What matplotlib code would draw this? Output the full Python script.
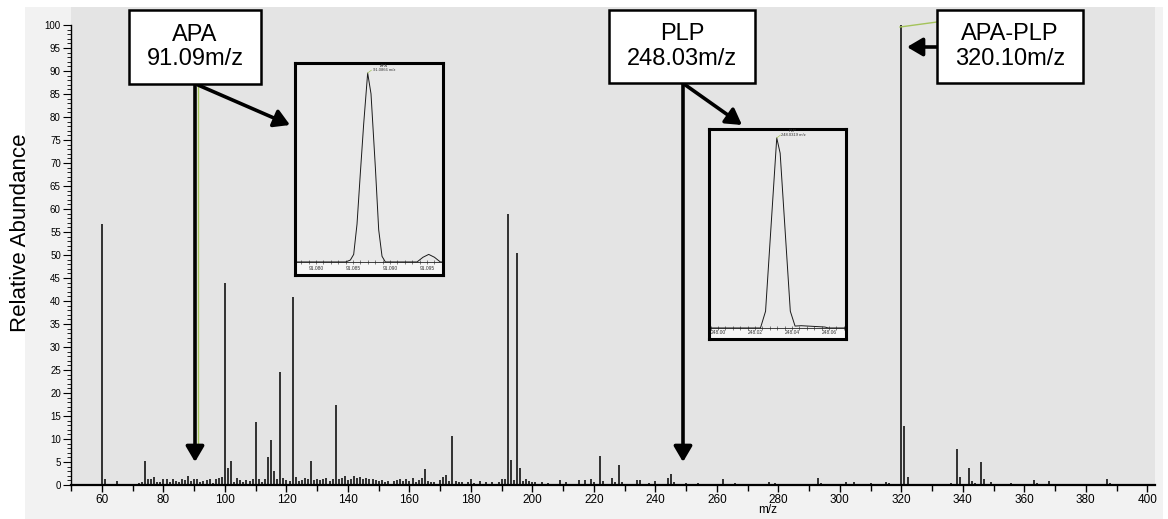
import matplotlib.pyplot as plt
from matplotlib.patches import Rectangle
import numpy as np

plt.rcParams['font.family'] = ['Liberation Sans', 'DejaVu Sans']

# centroid spectrum: m/z and relative abundance (%)
mz = [60.0, 61.0, 65.0, 72.0, 73.0, 74.0, 75.0, 76.0, 77.0, 78.0, 79.0, 80.0,
      81.0, 82.0, 83.0, 84.0, 85.0, 86.0, 87.0, 88.0, 89.0, 90.0, 91.0, 92.0,
      93.0, 94.0, 95.0, 96.0, 97.0, 98.0, 99.0, 100.0, 101.0, 102.0, 103.0,
      104.0, 105.0, 106.0, 107.0, 108.0, 109.0, 110.0, 111.0, 112.0, 113.0,
      114.0, 115.0, 116.0, 117.0, 118.0, 119.0, 120.0, 121.0, 122.0, 123.0,
      124.0, 125.0, 126.0, 127.0, 128.0, 129.0, 130.0, 131.0, 132.0, 133.0,
      134.0, 135.0, 136.0, 137.0, 138.0, 139.0, 140.0, 141.0, 142.0, 143.0,
      144.0, 145.0, 146.0, 147.0, 148.0, 149.0, 150.0, 151.0, 152.0, 153.0,
      155.0, 156.0, 157.0, 158.0, 159.0, 160.0, 161.0, 162.0, 163.0, 164.0,
      165.0, 166.0, 167.0, 168.0, 170.0, 171.0, 172.0, 173.0, 174.0, 175.0,
      176.0, 177.0, 179.0, 180.0, 181.0, 183.0, 185.0, 187.0, 189.0, 190.0,
      191.0, 192.0, 193.0, 194.0, 195.0, 196.0, 197.0, 198.0, 199.0, 200.0,
      201.0, 203.0, 205.0, 209.0, 211.0, 215.0, 217.0, 219.0, 220.0, 222.0,
      223.0, 226.0, 227.0, 228.0, 229.0, 234.0, 235.0, 238.0, 240.0, 244.0,
      245.0, 246.0, 250.0, 254.0, 262.0, 266.0, 277.0, 279.0, 293.0, 294.0,
      302.0, 304.5, 310.0, 315.0, 316.0, 320.0, 321.0, 322.0, 336.0, 338.0,
      339.0, 342.0, 343.0, 344.0, 346.0, 347.0, 349.0, 355.7, 360.0, 363.0,
      364.0, 368.0, 371.0, 387.0, 388.0]
abundance = [56.7, 1.3, 0.9, 0.5, 0.7, 5.2, 1.4, 1.2, 1.8, 0.7, 0.6, 1.4,
             1.2, 0.7, 1.3, 0.9, 0.6, 1.2, 1.0, 1.9, 0.8, 1.3, 1.4, 0.6,
             0.9, 1.1, 1.4, 0.5, 1.2, 1.5, 1.7, 44.0, 3.7, 5.3, 0.6,
             1.6, 1.1, 0.6, 1.0, 0.9, 1.3, 13.8, 1.4, 0.6, 1.2,
             6.0, 9.8, 3.1, 1.3, 24.5, 1.5, 1.0, 0.8, 40.8, 1.7,
             0.9, 1.0, 1.5, 1.2, 5.2, 1.1, 1.4, 1.0, 1.3, 1.6,
             0.9, 1.2, 17.5, 1.3, 1.6, 2.0, 1.1, 1.4, 2.0, 1.5,
             1.8, 1.2, 1.5, 1.4, 1.2, 1.1, 0.8, 1.0, 0.7, 0.9,
             0.8, 1.1, 1.3, 0.9, 1.2, 0.8, 1.5, 0.7, 1.0, 1.6,
             3.4, 0.9, 0.6, 0.7, 1.0, 1.8, 2.1, 0.8, 10.6, 0.9,
             0.6, 0.7, 0.6, 1.3, 0.5, 0.8, 0.6, 0.6, 0.7, 1.3,
             1.4, 59.0, 5.5, 1.0, 50.4, 3.8, 0.9, 1.2, 0.8, 0.7,
             0.6, 0.7, 0.5, 1.1, 0.6, 1.0, 1.0, 1.2, 0.7, 6.3,
             0.8, 1.6, 0.7, 4.3, 0.6, 1.0, 1.0, 0.5, 0.8, 1.5,
             2.3, 0.6, 0.4, 0.4, 1.2, 0.4, 0.6, 0.4, 1.5, 0.5,
             0.7, 0.6, 0.5, 0.6, 0.4, 100.0, 12.8, 1.7, 0.4, 7.9,
             1.8, 3.8, 0.8, 0.5, 5.1, 1.2, 0.6, 0.4, 0.3, 1.1,
             0.4, 0.9, 0.3, 1.2, 0.4]

# profile of the APA peak (inset 1)
apa_mz = [91.0772, 91.0840, 91.08464, 91.08509, 91.08554, 91.08599, 91.08644,
          91.08698, 91.08743, 91.08802, 91.08847, 91.08892, 91.08937, 91.09365,
          91.09446, 91.09523, 91.09600, 91.09680, 91.0972]
apa_int = [0, 0, 1, 4, 20, 47, 73, 100, 89, 50, 17, 3, 0, 0, 2.5, 4, 2.5, 0, 0]
apa_ticks = [91.080, 91.085, 91.090, 91.095]
apa_ticklabels = ["91.080", "91.085", "91.090", "91.095"]

# profile of the PLP peak (inset 2)
plp_mz = [247.9951, 248.02294, 248.02569, 248.03174, 248.03358, 248.03908,
          248.04165, 248.04495, 248.05780, 248.05963, 248.0692]
plp_int = [0, 0, 8.8, 100, 92, 8.8, 1.0, 1.2, 0.5, 0, 0]
plp_ticks = [248.00, 248.02, 248.04, 248.06]
plp_ticklabels = ["248.00", "248.02", "248.04", "248.06"]

W, H = 1168, 519
fig = plt.figure(figsize=(W / 100, H / 100), dpi=100)

# light grey panel behind the chart
fig.patches.append(Rectangle((25 / W, 0), (1163 - 25) / W, (H - 7) / H,
                             transform=fig.transFigure, facecolor='#f2f2f2',
                             edgecolor='none', zorder=-5))

ax = fig.add_axes([71.25 / W, 1 - 485 / H, (1155 - 71.25) / W, (485 - 6.6) / H])
ax.set_facecolor('#e4e4e4')
ax.set_xlim(50, 402.5)
ax.set_ylim(0, 104)

ax.vlines(mz, 0, abundance, color='black', lw=1.1)

for s in ['top', 'right']:
    ax.spines[s].set_visible(False)
ax.spines['left'].set_bounds(0, 100)
ax.spines['left'].set_linewidth(1.0)
ax.spines['bottom'].set_linewidth(1.6)

ax.set_xticks(np.arange(60, 401, 20))
ax.set_xticks(np.arange(50, 401, 10), minor=True)
ax.set_yticks(np.arange(0, 101, 5))
ax.set_yticks(np.arange(0, 101, 1), minor=True)
ax.tick_params(axis='x', which='major', length=5, width=1, labelsize=8.5, pad=1.5)
ax.tick_params(axis='x', which='minor', length=4, width=1)
ax.tick_params(axis='y', which='major', length=6, width=0.8, labelsize=7, pad=1.5)
ax.tick_params(axis='y', which='minor', length=3, width=0.6)

ax.set_ylabel('Relative Abundance', fontsize=16)
ax.yaxis.set_label_coords(-0.037, 0.527)
ax.set_xlabel('m/z', fontsize=8.5)
ax.xaxis.set_label_coords(0.643, -0.039)


def px(x, y):
    # image pixel -> figure pixel
    return (x, H - y)


def draw_box(x0, y0, x1, y1, lines):
    fig.add_artist(Rectangle((x0 / W, 1 - y1 / H), (x1 - x0) / W, (y1 - y0) / H,
                             transform=fig.transFigure, facecolor='white',
                             edgecolor='black', lw=1.8, zorder=10))
    fig.text((x0 + x1) / 2 / W, 1 - (y0 + y1) / 2 / H, "\n".join(lines),
             ha='center', va='center', fontsize=17, linespacing=1.15, zorder=11)


def arrow(start, end):
    fig.add_artist(plt.Annotation("", xy=px(*end), xytext=px(*start),
                                  xycoords='figure pixels',
                                  textcoords='figure pixels',
                                  arrowprops=dict(arrowstyle='-|>,head_length=0.85,head_width=0.5',
                                                  mutation_scale=11, lw=2.6,
                                                  color='black',
                                                  shrinkA=0, shrinkB=0),
                                  zorder=9))


def leader(start, end):
    fig.add_artist(plt.Line2D([start[0] / W, end[0] / W],
                              [1 - start[1] / H, 1 - end[1] / H],
                              transform=fig.transFigure, color='#a4c35a',
                              lw=1.0, zorder=8))


def draw_inset(x0, y0, x1, y1, xlim, ylim, xs, ys, ticks, ticklabels, peak_label):
    iax = fig.add_axes([x0 / W, 1 - y1 / H, (x1 - x0) / W, (y1 - y0) / H], zorder=4)
    iax.set_facecolor('#e9e9e9')
    iax.set_xlim(*xlim)
    iax.set_ylim(*ylim)
    iax.axhspan(ylim[0], 0, color='#f6f6f6', lw=0)
    iax.plot(xs, ys, color='#1a1a1a', lw=0.7)
    iax.axhline(0, color='#222222', lw=0.6)
    step = (ticks[1] - ticks[0]) / 5
    minor = np.arange(ticks[0] - 5 * step, xlim[1], step)
    iax.vlines(minor, -1.0, 1.0, color='#222222', lw=0.4)
    iax.set_xticks(ticks)
    iax.set_xticklabels(ticklabels)
    iax.tick_params(axis='x', direction='in', length=0, pad=-6.5, labelsize=3.5,
                    labelcolor='#333333')
    iax.set_yticks([])
    for s in iax.spines.values():
        s.set_linewidth(2.2)
        s.set_color('black')
    top = int(np.argmax(ys))
    iax.plot([xs[top], xs[top] + step * 0.5], [ys[top], ys[top] + 1.5],
             color='#a4c35a', lw=0.5)
    iax.text(xs[top] + step * 2.2, ys[top] + 0.5, peak_label, fontsize=3,
             ha='center', va='bottom', color='#333333', linespacing=1.0)
    return iax


# inset panels
draw_inset(295, 63, 443, 275, (91.07716, 91.09716), (-6.9, 105.3),
           apa_mz, apa_int, apa_ticks, apa_ticklabels, "APA\n91.0866 m/z")
draw_inset(709, 129, 846, 339, (247.9951, 248.0692), (-5.8, 104.7),
           plp_mz, plp_int, plp_ticks, plp_ticklabels, "PLP\n248.0319 m/z")

# leader lines from the acquisition software
leader((197.5, 84), (197.5, 452))
leader((900, 27), (937, 22))

# annotation boxes and arrows
draw_box(129, 10, 261, 84, ["APA", "91.09m/z"])
arrow((195, 84), (195, 462))
arrow((198, 85), (290, 125))

draw_box(609, 10, 755, 83, ["PLP", "248.03m/z"])
arrow((683, 83), (683, 462))
arrow((684, 84), (742, 125))

draw_box(937, 10, 1083, 83, ["APA-PLP", "320.10m/z"])
arrow((937, 47), (907, 47))

fig.savefig('out.png', dpi=100)
